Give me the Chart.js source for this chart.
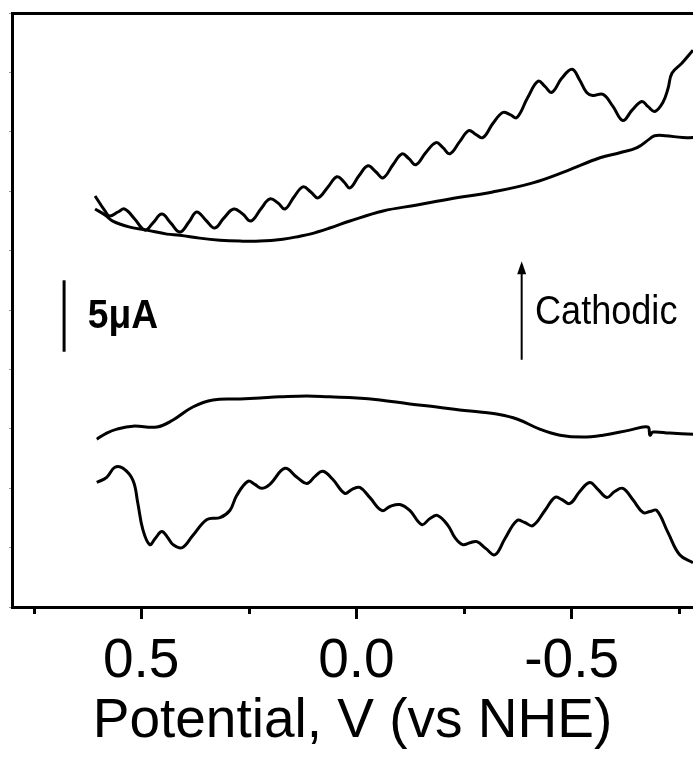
<!DOCTYPE html>
<html>
<head>
<meta charset="utf-8">
<script src="https://cdn.jsdelivr.net/npm/chart.js@4/dist/chart.umd.min.js"></script>
<style>
  html, body { margin: 0; padding: 0; background: #fff; overflow: hidden; }
  canvas { display: block; }
</style>
</head>
<body>
<canvas id="c" width="693" height="760"></canvas>
<script>
// ---- Data (potential in V vs NHE, current in µA, arbitrary offset) ----
// Forward scan, top trace (oscillating)
const potA = [0.607,0.584,0.573,0.554,0.538,0.515,0.491,0.473,0.452,0.431,0.410,0.389,0.371,0.350,0.329,0.308,0.285,0.264,0.245,0.222,0.201,0.182,0.166,0.145,0.124,0.106,0.089,0.066,0.045,0.029,0.015,-0.006,-0.027,-0.045,-0.062,-0.085,-0.106,-0.122,-0.138,-0.161,-0.185,-0.201,-0.217,-0.240,-0.261,-0.278,-0.294,-0.317,-0.340,-0.357,-0.373,-0.398,-0.422,-0.438,-0.454,-0.477,-0.501,-0.519,-0.535,-0.549,-0.573,-0.596,-0.619,-0.640,-0.663,-0.677,-0.693,-0.712,-0.724,-0.733,-0.756,-0.782];
const curA = [27.68,26.67,26.33,26.60,26.80,26.13,25.38,25.85,26.46,25.85,25.25,25.92,26.60,26.06,25.52,26.19,26.80,26.46,25.99,26.80,27.48,27.21,26.80,27.61,28.29,27.95,27.55,28.29,28.97,28.63,28.22,29.04,29.71,29.31,28.90,29.78,30.52,30.19,29.78,30.59,31.27,30.93,30.52,31.34,32.08,31.81,31.61,32.56,33.30,33.16,32.96,34.31,35.40,35.06,34.65,35.60,36.21,35.47,34.65,34.45,34.52,33.71,32.76,33.44,34.04,33.71,33.37,33.98,34.92,35.94,36.62,37.50];

// Forward scan, top trace (smooth)
const potB = [0.607,0.584,0.566,0.526,0.487,0.440,0.410,0.364,0.317,0.271,0.224,0.171,0.131,0.108,0.062,0.015,-0.062,-0.141,-0.217,-0.317,-0.410,-0.489,-0.566,-0.612,-0.652,-0.682,-0.693,-0.717,-0.758,-0.782];
const curB = [26.80,26.40,25.99,25.58,25.38,25.11,25.04,24.84,24.70,24.64,24.64,24.77,24.97,25.11,25.52,25.99,26.67,27.07,27.48,27.95,28.56,29.37,30.25,30.59,30.93,31.54,31.74,31.74,31.61,31.61];

// Lower trace (smooth)
const potC = [0.603,0.580,0.556,0.519,0.463,0.426,0.380,0.333,0.271,0.224,0.178,0.115,0.062,-0.001,-0.055,-0.124,-0.187,-0.240,-0.287,-0.326,-0.373,-0.426,-0.473,-0.526,-0.573,-0.635,-0.677,-0.682,-0.689,-0.728,-0.782];
const curC = [11.30,11.71,11.98,12.18,12.12,12.59,13.47,13.94,14.01,14.08,14.15,14.21,14.15,14.08,13.94,13.67,13.47,13.27,13.13,12.99,12.66,11.98,11.57,11.44,11.57,11.91,12.12,11.57,11.78,11.71,11.64];

// Lower trace (oscillating)
const potD = [0.603,0.580,0.561,0.542,0.519,0.508,0.496,0.480,0.466,0.452,0.438,0.426,0.405,0.380,0.347,0.317,0.294,0.278,0.252,0.236,0.220,0.201,0.166,0.138,0.115,0.096,0.078,0.055,0.027,0.010,-0.008,-0.031,-0.059,-0.078,-0.101,-0.124,-0.152,-0.171,-0.189,-0.213,-0.229,-0.247,-0.264,-0.280,-0.301,-0.322,-0.345,-0.373,-0.391,-0.410,-0.438,-0.461,-0.477,-0.496,-0.519,-0.542,-0.561,-0.582,-0.600,-0.619,-0.642,-0.666,-0.682,-0.698,-0.724,-0.751,-0.782];
const curD = [8.39,8.73,9.41,9.34,8.53,7.04,5.21,4.20,4.67,5.08,4.67,4.20,3.99,4.81,5.89,6.02,6.50,7.51,8.46,8.26,7.99,8.26,9.34,8.73,8.32,8.80,9.14,8.60,7.65,7.92,8.05,7.38,6.50,6.77,6.90,6.50,5.55,5.96,6.16,5.48,4.67,4.20,4.33,4.40,3.93,3.52,4.60,5.82,5.69,5.48,6.50,7.38,7.24,6.97,7.78,8.39,7.92,7.38,7.78,7.99,7.24,6.36,6.43,6.50,5.01,3.52,2.98];

// Axis
const xMin = -0.782, xMax = 0.80;
const yMin = 0, yMax = 40, yStep = 4;
const majorTicks = [0.5, 0.0, -0.5];
const minorTicks = [0.75, 0.25, -0.25, -0.75];
const axisTitle = 'Potential, V (vs NHE)';

// Annotations (data coordinates)
const scaleBarV = 0.679, scaleBarI = [17.19, 22.0];
const scaleLabel = '5\u03BCA', scaleLabelV = 0.624, scaleLabelI = 18.8;
const arrowV = -0.384, arrowI = [16.65, 23.28];
const arrowLabel = 'Cathodic', arrowLabelV = -0.415, arrowLabelI = 19.09;

const FONT = "'Liberation Sans', Arial, Helvetica, sans-serif";

function pts(xs, ys) { return xs.map((v, i) => ({ x: v, y: ys[i] })); }

function ds(xs, ys) {
  return {
    data: pts(xs, ys),
    borderColor: '#000',
    borderWidth: 3,
    pointRadius: 0,
    tension: 0.4,
    fill: false
  };
}

function drawScaledText(ctx, text, px, py, font, sx) {
  ctx.save();
  ctx.translate(px, py);
  ctx.scale(sx, 1);
  ctx.font = font;
  ctx.textAlign = 'left';
  ctx.textBaseline = 'alphabetic';
  ctx.fillText(text, 0, 0);
  ctx.restore();
}

const annot = {
  id: 'annot',
  afterDraw(chart) {
    const { ctx, scales } = chart;
    const x = scales.x, y = scales.y;
    ctx.save();
    ctx.strokeStyle = '#000';
    ctx.fillStyle = '#000';

    // minor ticks on x axis
    ctx.lineWidth = 3;
    const yb = chart.chartArea.bottom;
    minorTicks.forEach(v => {
      const px = Math.round(x.getPixelForValue(v)) + 0.5;
      ctx.beginPath();
      ctx.moveTo(px, yb);
      ctx.lineTo(px, yb + 7);
      ctx.stroke();
    });

    // scale bar
    const bx = x.getPixelForValue(scaleBarV);
    ctx.lineWidth = 3;
    ctx.beginPath();
    ctx.moveTo(bx, y.getPixelForValue(scaleBarI[0]));
    ctx.lineTo(bx, y.getPixelForValue(scaleBarI[1]));
    ctx.stroke();
    drawScaledText(ctx, scaleLabel, x.getPixelForValue(scaleLabelV), y.getPixelForValue(scaleLabelI), 'bold 40px ' + FONT, 0.93);

    // arrow
    const ax = x.getPixelForValue(arrowV);
    const a0 = y.getPixelForValue(arrowI[0]);
    const a1 = y.getPixelForValue(arrowI[1]);
    ctx.lineWidth = 2;
    ctx.beginPath();
    ctx.moveTo(ax, a0);
    ctx.lineTo(ax, a1 + 10);
    ctx.stroke();
    ctx.beginPath();
    ctx.moveTo(ax, a1);
    ctx.lineTo(ax - 4.5, a1 + 13);
    ctx.lineTo(ax + 4.5, a1 + 13);
    ctx.closePath();
    ctx.fill();
    drawScaledText(ctx, arrowLabel, x.getPixelForValue(arrowLabelV), y.getPixelForValue(arrowLabelI), '41px ' + FONT, 0.88);
    ctx.restore();
  }
};

new Chart(document.getElementById('c'), {
  type: 'line',
  data: { datasets: [ds(potA, curA), ds(potB, curB), ds(potC, curC), ds(potD, curD)] },
  options: {
    responsive: false,
    devicePixelRatio: 1,
    animation: false,
    layout: { padding: { left: 9, top: 13, right: 0, bottom: 0 } },
    plugins: { legend: { display: false }, tooltip: { enabled: false } },
    scales: {
      x: {
        type: 'linear',
        position: 'bottom',
        reverse: true,
        min: xMin,
        max: xMax,
        afterBuildTicks: (s) => { s.ticks = majorTicks.map(v => ({ value: v })); },
        ticks: {
          includeBounds: false,
          color: '#000',
          font: { family: FONT, size: 55, lineHeight: 1.0 },
          padding: 15,
          maxRotation: 0,
          autoSkip: false,
          callback: (v) => (Math.abs(v) < 1e-9 ? 0 : v).toFixed(1)
        },
        grid: { drawOnChartArea: false, drawTicks: true, tickLength: 12, tickWidth: 3, tickColor: '#000' },
        border: { display: true, width: 3, color: '#000' },
        title: {
          display: true,
          text: axisTitle,
          color: '#000',
          font: { family: FONT, size: 55, lineHeight: 1.0 },
          padding: { top: -10, bottom: 11 }
        }
      },
      xTop: {
        type: 'linear',
        position: 'top',
        reverse: true,
        min: xMin,
        max: xMax,
        ticks: { display: false },
        grid: { drawOnChartArea: false, drawTicks: false },
        border: { display: true, width: 3, color: '#000' }
      },
      y: {
        type: 'linear',
        position: 'left',
        min: yMin,
        max: yMax,
        ticks: { display: false, stepSize: yStep },
        grid: { drawOnChartArea: false, drawTicks: true, tickLength: 3, tickWidth: 1, tickColor: '#999' },
        border: { display: true, width: 3, color: '#000' }
      }
    }
  },
  plugins: [annot]
});
</script>
</body>
</html>
